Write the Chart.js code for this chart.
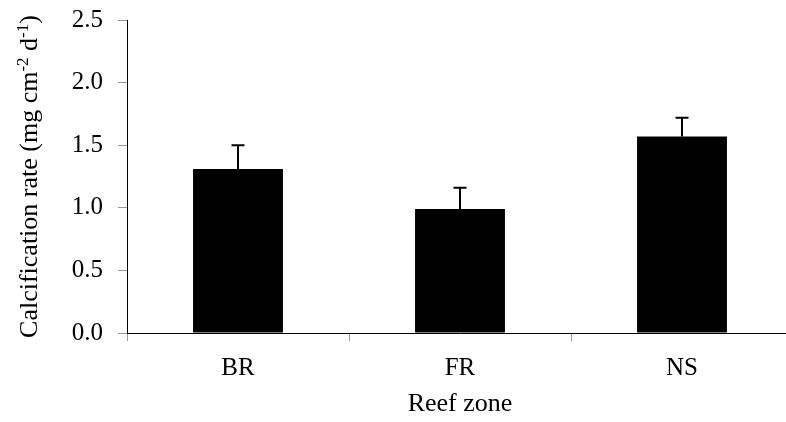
<!DOCTYPE html>
<html>
<head>
<meta charset="utf-8">
<script src="https://cdn.jsdelivr.net/npm/chart.js@4"></script>
<style>
html,body{margin:0;padding:0;background:#fff;overflow:hidden;width:786px;height:422px;}
#wrap{width:793px;height:422px;}
</style>
</head>
<body>
<div id="wrap"><canvas id="c" width="793" height="422"></canvas></div>
<script>
const categories = ["BR", "FR", "NS"];
const calcificationRate = [1.31, 0.99, 1.57];
const errorUpper = [0.19, 0.17, 0.15];
const yTicks = [0.0, 0.5, 1.0, 1.5, 2.0, 2.5];
const yTitleParts = [
  { text: "Calcification rate (mg cm", sup: false },
  { text: "-2", sup: true },
  { text: " d", sup: false },
  { text: "-1", sup: true },
  { text: ")", sup: false }
];

const FONT = "'Liberation Serif', 'Times New Roman', serif";
const FS = 25;
const TITLE_FS = 26;

const errorBarPlugin = {
  id: 'errorBars',
  afterDatasetsDraw(chart) {
    const ctx = chart.ctx;
    const meta = chart.getDatasetMeta(0);
    const y = chart.scales.y;
    ctx.save();
    ctx.strokeStyle = '#000';
    ctx.lineWidth = 2;
    meta.data.forEach((bar, i) => {
      const top = y.getPixelForValue(calcificationRate[i] + errorUpper[i]);
      const x = bar.x;
      ctx.beginPath();
      ctx.moveTo(x, bar.y);
      ctx.lineTo(x, top);
      ctx.moveTo(x - 6.5, top);
      ctx.lineTo(x + 6.5, top);
      ctx.stroke();
    });
    ctx.restore();
  }
};

const yTitlePlugin = {
  id: 'yTitle',
  afterDraw(chart) {
    const ctx = chart.ctx;
    const area = chart.chartArea;
    const normalFont = TITLE_FS + 'px ' + FONT;
    const supFont = Math.round(TITLE_FS * 0.64) + 'px ' + FONT;
    ctx.save();
    let total = 0;
    yTitleParts.forEach(p => {
      ctx.font = p.sup ? supFont : normalFont;
      p.w = ctx.measureText(p.text).width;
      total += p.w;
    });
    const cy = (area.top + area.bottom) / 2;
    ctx.translate(37, cy);
    ctx.rotate(-Math.PI / 2);
    ctx.fillStyle = '#000';
    ctx.textBaseline = 'alphabetic';
    ctx.textAlign = 'left';
    let x = -total / 2;
    yTitleParts.forEach(p => {
      ctx.font = p.sup ? supFont : normalFont;
      ctx.fillText(p.text, x, p.sup ? -TITLE_FS * 0.36 : 0);
      x += p.w;
    });
    ctx.restore();
  }
};

new Chart(document.getElementById('c'), {
  type: 'bar',
  data: {
    labels: categories,
    datasets: [{
      data: calcificationRate,
      backgroundColor: '#000',
      borderWidth: 0,
      barPercentage: 0.405,
      categoryPercentage: 1.0
    }]
  },
  options: {
    responsive: false,
    animation: false,
    layout: { padding: { left: 0, right: 0, top: 20, bottom: 0 } },
    plugins: { legend: { display: false }, tooltip: { enabled: false } },
    scales: {
      x: {
        afterFit(scale) { scale.height = 89; scale.paddingLeft = 0; scale.paddingRight = 0; },
        grid: { display: true, drawOnChartArea: false, drawTicks: true, tickLength: 8, color: '#999', lineWidth: 1, offset: true },
        border: { display: true, color: '#000', width: 1 },
        ticks: { color: '#000', font: { family: FONT, size: FS }, padding: 12 },
        title: { display: true, text: 'Reef zone', color: '#000', font: { family: FONT, size: 26 }, padding: { top: 0, bottom: 2 } }
      },
      y: {
        min: 0, max: 2.5,
        afterFit(scale) { scale.width = 127; scale.paddingTop = 0; scale.paddingBottom = 0; },
        afterBuildTicks(scale) { scale.ticks = yTicks.map(v => ({ value: v })); },
        grid: { display: true, drawOnChartArea: false, drawTicks: true, tickLength: 9, color: '#999', lineWidth: 1 },
        border: { display: true, color: '#000', width: 1 },
        ticks: { color: '#000', font: { family: FONT, size: FS }, padding: 15, callback: v => Number(v).toFixed(1) },
        title: { display: false }
      }
    }
  },
  plugins: [errorBarPlugin, yTitlePlugin]
});
</script>
</body>
</html>
